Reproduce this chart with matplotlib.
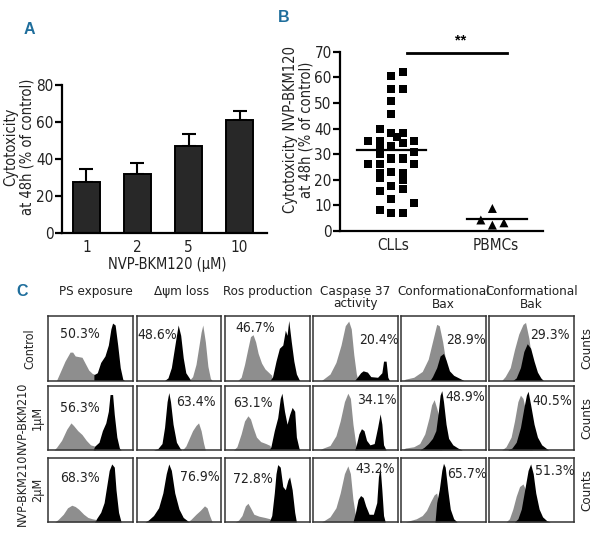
import os
import matplotlib
matplotlib.use("Agg")
import matplotlib.pyplot as plt
from matplotlib import font_manager
from matplotlib.font_manager import FontProperties

# ---------------- data ----------------
a_doses = ['1', '2', '5', '10']
a_means = [27.5, 32, 47, 61]
a_err = [7, 6, 6.5, 5]

b_groups = ['CLLs', 'PBMCs']
b_cll_values = [61.9, 60.6, 55.4, 55.4, 50.8, 45.6, 39.8, 38.1, 38.1, 36.8, 35.1, 35.1,
                34.2, 35.1, 33.2, 32.2, 30.0, 31.0, 28.3, 28.3, 26.1, 26.1, 26.1, 22.5,
                20.9, 22.9, 22.5, 19.9, 17.7, 16.4, 15.6, 12.5, 10.8, 8.2, 7.2, 7.2]
b_cll_cols = [1, 0, 0, 1, 0, 0, -1, 0, 1, 0.5, -2, -1,
              1, 2, 0, -1, -1, 2, 0, 1, -2, -1, 2, -1,
              -1, 0, 1, 1, 0, 1, -1, 0, 2, -1, 0, 1]
b_pbmc_values = [4.3, 8.8, 2.3, 3.2]
b_pbmc_cols = [-1, 0, 0, 1]
b_cll_median = 31.5
b_pbmc_median = 4.8
b_sig = '**'

c_columns = ['PS exposure', '\u0394\u03c8m loss', 'Ros production', 'Caspase 37\nactivity',
             'Conformational\nBax', 'Conformational\nBak']
c_rows = ['Control', 'NVP-BKM210\n1\u03bcM', 'NVP-BKM210\n2\u03bcM']
c_percent = [['50.3%', '48.6%', '46.7%', '20.4%', '28.9%', '29.3%'],
             ['56.3%', '63.4%', '63.1%', '34.1%', '48.9%', '40.5%'],
             ['68.3%', '76.9%', '72.8%', '43.2%', '65.7%', '51.3%']]

# histogram outlines (fluorescence fraction, relative count) per row, per column
c_gray_control = [
    [(0.1, 0), (0.14, 0.12), (0.2, 0.3), (0.26, 0.44), (0.29, 0.44), (0.32, 0.38), (0.4, 0.36), (0.44, 0.26), (0.48, 0.16), (0.52, 0.11), (0.56, 0.09), (0.56, 0)],
    [(0.62, 0), (0.66, 0.06), (0.7, 0.25), (0.73, 0.5), (0.76, 0.75), (0.78, 0.86), (0.81, 0.6), (0.84, 0.22), (0.87, 0.03), (0.89, 0)],
    [(0.15, 0), (0.19, 0.05), (0.23, 0.25), (0.27, 0.5), (0.3, 0.68), (0.33, 0.71), (0.36, 0.6), (0.39, 0.42), (0.43, 0.27), (0.47, 0.18), (0.51, 0.13), (0.55, 0.08), (0.55, 0)],
    [(0.1, 0), (0.14, 0.04), (0.2, 0.1), (0.27, 0.28), (0.33, 0.55), (0.38, 0.85), (0.42, 0.92), (0.45, 0.8), (0.48, 0.4), (0.51, 0.1), (0.53, 0)],
    [(0.03, 0), (0.05, 0.02), (0.15, 0.05), (0.25, 0.14), (0.32, 0.33), (0.37, 0.6), (0.42, 0.87), (0.45, 0.85), (0.49, 0.6), (0.52, 0.35), (0.55, 0.1), (0.58, 0)],
    [(0.15, 0), (0.19, 0.06), (0.25, 0.2), (0.3, 0.48), (0.35, 0.72), (0.4, 0.87), (0.43, 0.9), (0.47, 0.65), (0.5, 0.35), (0.53, 0.1), (0.55, 0)],
]
c_black_control = [
    [(0.54, 0), (0.54, 0.09), (0.58, 0.12), (0.62, 0.28), (0.67, 0.38), (0.71, 0.55), (0.74, 0.8), (0.76, 0.89), (0.79, 0.86), (0.82, 0.55), (0.85, 0.2), (0.88, 0.02), (0.9, 0)],
    [(0.33, 0), (0.37, 0.04), (0.41, 0.2), (0.44, 0.45), (0.47, 0.7), (0.49, 0.86), (0.52, 0.7), (0.55, 0.35), (0.58, 0.12), (0.62, 0.04), (0.64, 0)],
    [(0.53, 0), (0.56, 0.06), (0.6, 0.3), (0.64, 0.5), (0.68, 0.55), (0.71, 0.78), (0.73, 0.7), (0.75, 0.93), (0.78, 0.6), (0.81, 0.3), (0.84, 0.1), (0.87, 0.02), (0.88, 0)],
    [(0.49, 0), (0.52, 0.05), (0.56, 0.12), (0.59, 0.15), (0.64, 0.13), (0.68, 0.06), (0.76, 0.05), (0.81, 0.12), (0.83, 0.3), (0.86, 0.3), (0.88, 0.05), (0.9, 0)],
    [(0.34, 0), (0.37, 0.06), (0.42, 0.2), (0.46, 0.38), (0.5, 0.42), (0.53, 0.32), (0.57, 0.15), (0.62, 0.08), (0.68, 0.04), (0.74, 0)],
    [(0.28, 0), (0.32, 0.04), (0.37, 0.2), (0.41, 0.45), (0.45, 0.57), (0.49, 0.5), (0.53, 0.3), (0.57, 0.13), (0.61, 0.04), (0.64, 0)],
]
c_gray_1um = [
    [(0.07, 0), (0.1, 0.04), (0.16, 0.15), (0.22, 0.32), (0.27, 0.42), (0.3, 0.38), (0.35, 0.3), (0.4, 0.24), (0.45, 0.15), (0.5, 0.08), (0.55, 0.06), (0.56, 0)],
    [(0.54, 0), (0.58, 0.06), (0.62, 0.18), (0.66, 0.3), (0.7, 0.38), (0.73, 0.42), (0.76, 0.3), (0.79, 0.1), (0.81, 0)],
    [(0.1, 0), (0.14, 0.05), (0.19, 0.25), (0.23, 0.45), (0.27, 0.53), (0.3, 0.48), (0.33, 0.35), (0.37, 0.2), (0.42, 0.13), (0.48, 0.1), (0.53, 0.07), (0.54, 0)],
    [(0.08, 0), (0.12, 0.03), (0.2, 0.07), (0.27, 0.22), (0.32, 0.45), (0.37, 0.75), (0.41, 0.88), (0.44, 0.8), (0.47, 0.4), (0.5, 0.12), (0.52, 0)],
    [(0.02, 0), (0.05, 0.03), (0.15, 0.05), (0.22, 0.1), (0.28, 0.25), (0.33, 0.5), (0.36, 0.7), (0.39, 0.78), (0.42, 0.65), (0.45, 0.5), (0.47, 0.2), (0.48, 0)],
    [(0.15, 0), (0.2, 0.05), (0.26, 0.2), (0.3, 0.45), (0.34, 0.75), (0.37, 0.85), (0.4, 0.8), (0.44, 0.55), (0.48, 0.25), (0.51, 0)],
]
c_black_1um = [
    [(0.53, 0), (0.55, 0.06), (0.6, 0.12), (0.64, 0.3), (0.68, 0.42), (0.71, 0.6), (0.73, 0.86), (0.76, 0.86), (0.78, 0.55), (0.81, 0.2), (0.84, 0.03), (0.86, 0)],
    [(0.2, 0), (0.25, 0.02), (0.3, 0.1), (0.33, 0.35), (0.36, 0.75), (0.38, 0.89), (0.4, 0.75), (0.43, 0.4), (0.47, 0.12), (0.51, 0.03), (0.53, 0)],
    [(0.52, 0), (0.54, 0.05), (0.58, 0.3), (0.62, 0.5), (0.65, 0.8), (0.67, 0.88), (0.7, 0.6), (0.73, 0.4), (0.76, 0.55), (0.79, 0.66), (0.82, 0.6), (0.84, 0.2), (0.87, 0.03), (0.88, 0)],
    [(0.49, 0), (0.51, 0.08), (0.54, 0.25), (0.57, 0.33), (0.6, 0.3), (0.63, 0.15), (0.67, 0.08), (0.72, 0.1), (0.76, 0.35), (0.79, 0.56), (0.81, 0.4), (0.83, 0.08), (0.86, 0)],
    [(0.22, 0), (0.27, 0.04), (0.32, 0.1), (0.37, 0.18), (0.41, 0.3), (0.44, 0.6), (0.46, 0.85), (0.48, 0.92), (0.5, 0.75), (0.53, 0.4), (0.56, 0.18), (0.61, 0.08), (0.67, 0.03), (0.72, 0)],
    [(0.22, 0), (0.27, 0.03), (0.32, 0.12), (0.37, 0.35), (0.41, 0.65), (0.44, 0.85), (0.46, 0.91), (0.49, 0.7), (0.53, 0.4), (0.57, 0.2), (0.62, 0.08), (0.68, 0.02), (0.7, 0)],
]
c_gray_2um = [
    [(0.08, 0), (0.12, 0.04), (0.18, 0.12), (0.23, 0.22), (0.28, 0.26), (0.32, 0.24), (0.36, 0.2), (0.42, 0.12), (0.47, 0.07), (0.52, 0.05), (0.56, 0.04), (0.56, 0)],
    [(0.6, 0), (0.64, 0.04), (0.7, 0.12), (0.75, 0.18), (0.8, 0.25), (0.83, 0.22), (0.86, 0.1), (0.89, 0)],
    [(0.12, 0), (0.16, 0.03), (0.2, 0.1), (0.24, 0.25), (0.27, 0.29), (0.3, 0.22), (0.34, 0.12), (0.4, 0.09), (0.47, 0.07), (0.53, 0.05), (0.54, 0)],
    [(0.1, 0), (0.14, 0.03), (0.2, 0.08), (0.27, 0.22), (0.32, 0.45), (0.37, 0.75), (0.41, 0.87), (0.44, 0.75), (0.47, 0.35), (0.5, 0.1), (0.52, 0)],
    [(0.05, 0), (0.1, 0.02), (0.18, 0.05), (0.25, 0.1), (0.3, 0.18), (0.35, 0.32), (0.39, 0.42), (0.42, 0.45), (0.44, 0.3), (0.46, 0)],
    [(0.2, 0), (0.24, 0.05), (0.28, 0.2), (0.32, 0.4), (0.36, 0.55), (0.4, 0.59), (0.43, 0.5), (0.46, 0.2), (0.48, 0)],
]
c_black_2um = [
    [(0.55, 0), (0.57, 0.05), (0.62, 0.15), (0.66, 0.3), (0.69, 0.55), (0.72, 0.8), (0.75, 0.9), (0.78, 0.85), (0.8, 0.5), (0.83, 0.15), (0.86, 0)],
    [(0.1, 0), (0.14, 0.03), (0.2, 0.1), (0.26, 0.22), (0.31, 0.45), (0.35, 0.75), (0.38, 0.9), (0.41, 0.8), (0.45, 0.45), (0.5, 0.2), (0.55, 0.07), (0.6, 0.02), (0.62, 0)],
    [(0.52, 0), (0.55, 0.1), (0.58, 0.45), (0.6, 0.75), (0.62, 0.89), (0.65, 0.85), (0.68, 0.55), (0.71, 0.5), (0.74, 0.65), (0.76, 0.7), (0.79, 0.5), (0.82, 0.15), (0.84, 0)],
    [(0.47, 0), (0.5, 0.15), (0.53, 0.35), (0.56, 0.41), (0.59, 0.38), (0.62, 0.25), (0.66, 0.12), (0.71, 0.12), (0.75, 0.3), (0.77, 0.7), (0.79, 0.85), (0.81, 0.5), (0.83, 0.1), (0.85, 0)],
    [(0.4, 0), (0.42, 0.3), (0.45, 0.5), (0.48, 0.8), (0.5, 0.91), (0.52, 0.85), (0.55, 0.5), (0.58, 0.2), (0.62, 0.05), (0.66, 0)],
    [(0.3, 0), (0.34, 0.05), (0.38, 0.2), (0.42, 0.5), (0.46, 0.8), (0.49, 0.9), (0.52, 0.75), (0.55, 0.45), (0.59, 0.2), (0.63, 0.08), (0.68, 0.02), (0.72, 0)],
]
c_gray = [c_gray_control, c_gray_1um, c_gray_2um]
c_black = [c_black_control, c_black_1um, c_black_2um]

# ---------------- fonts: prefer a narrow / condensed face ----------------
NARROW_FILE = None
prefs = ['liberationsansnarrow-regular', 'dejavusanscondensed.', 'robotocondensed-regular',
         'opensans-condensed', 'notosans-condensed', 'opensanscondensed']
files = [f.fname for f in font_manager.fontManager.ttflist]
for key in prefs:
    hits = [fn for fn in files if key in os.path.basename(fn).lower().replace(' ', '')]
    if hits:
        NARROW_FILE = hits[0]
        break
SCALE = 1.0 if NARROW_FILE else 0.9


def fp(size, bold=False):
    if NARROW_FILE and not bold:
        return FontProperties(fname=NARROW_FILE, size=size)
    return FontProperties(family=['Liberation Sans', 'DejaVu Sans'], size=size * SCALE,
                          weight='bold' if bold else 'normal')


BLUE = '#1f6e9c'
INK = '#222222'
W, H = 596, 541

fig = plt.figure(figsize=(W / 100, H / 100), dpi=100)


def rect(l, t, r, b):
    return [l / W, 1 - b / H, (r - l) / W, (b - t) / H]


def px(x, y):
    return x / W, 1 - y / H


def style_prism(ax):
    for s in ['top', 'right']:
        ax.spines[s].set_visible(False)
    for s in ['left', 'bottom']:
        ax.spines[s].set_linewidth(1.6)
    ax.tick_params(axis='y', length=5, width=1.6, pad=1)
    ax.tick_params(axis='x', length=0, pad=5)
    for lbl in ax.get_xticklabels() + ax.get_yticklabels():
        lbl.set_fontproperties(fp(11))
        lbl.set_color(INK)


# ---- Panel A ----
axA = fig.add_axes(rect(61.7, 85, 267, 232.7))
xa = list(range(len(a_doses)))
axA.bar(xa, a_means, width=0.53, color='#282828', edgecolor='black', linewidth=1.4, zorder=2)
axA.errorbar(xa, a_means, yerr=[[0] * len(a_err), a_err], fmt='none', ecolor='black',
             elinewidth=1.5, capsize=5, capthick=1.5, zorder=1)
axA.set_xlim(-0.486, 3.539)
axA.set_ylim(0, 80)
axA.set_yticks([0, 20, 40, 60, 80])
axA.set_xticks(xa)
axA.set_xticklabels(a_doses)
style_prism(axA)
fig.text(*px(167, 265), 'NVP-BKM120 (\u03bcM)', fontproperties=fp(10.5), ha='center',
         va='center', color=INK)
fig.text(*px(19, 147), 'Cytotoxicity\nat 48h (% of control)', fontproperties=fp(10.5),
         ha='center', va='center', rotation=90, linespacing=1.05, color=INK)
fig.text(*px(29, 30), 'A', color=BLUE, fontproperties=fp(11.5, bold=True), ha='center',
         va='center')

# ---- Panel B ----
axB = fig.add_axes(rect(340, 51.7, 543, 231))
step = 0.114
axB.scatter([0 + c * step for c in b_cll_cols], b_cll_values, marker='s', s=34, color='black',
            edgecolors='none', zorder=3, clip_on=False)
axB.scatter([1 + c * step for c in b_pbmc_cols], b_pbmc_values, marker='^', s=42, color='black',
            edgecolors='none', zorder=3, clip_on=False)
axB.plot([-0.34, 0.34], [b_cll_median] * 2, color='black', lw=1.6, zorder=4)
axB.plot([0.75, 1.34], [b_pbmc_median] * 2, color='black', lw=1.6, zorder=4)
axB.plot([0.155, 1.145], [69.5, 69.5], color='black', lw=2.0, clip_on=False)
axB.text(0.69, 74.5, b_sig, ha='center', va='center', fontproperties=fp(10.5, bold=True))
axB.set_xlim(-0.505, 1.5)
axB.set_ylim(0, 70)
axB.set_yticks(range(0, 71, 10))
axB.set_xticks([0.02, 1.03])
axB.set_xticklabels(b_groups)
style_prism(axB)
fig.text(*px(298, 130), 'Cytotoxicity NVP-BKM120\nat 48h (% of control)',
         fontproperties=fp(10.5), ha='center', va='center', rotation=90, linespacing=1.05,
         color=INK)
fig.text(*px(284, 18), 'B', color=BLUE, fontproperties=fp(11.5, bold=True), ha='center',
         va='center')

# ---- Panel C ----
col_lefts = [48, 136.5, 225, 313, 401, 489]
col_w = 85
row_tops = [316, 385.5, 457.5]
row_h = 64.5
header_shift = [5, 3, 0, 0, 0, 0]
label_pos = [
    [(0.38, 0.72), (0.24, 0.70), (0.35, 0.82), (0.77, 0.63), (0.76, 0.63), (0.72, 0.71)],
    [(0.38, 0.65), (0.70, 0.75), (0.33, 0.73), (0.75, 0.78), (0.76, 0.82), (0.74, 0.76)],
    [(0.37, 0.68), (0.74, 0.69), (0.33, 0.66), (0.73, 0.82), (0.78, 0.74), (0.78, 0.79)],
]
for r in range(3):
    for c in range(6):
        l = col_lefts[c]
        t = row_tops[r]
        ax = fig.add_axes(rect(l, t, l + col_w, t + row_h))
        g = c_gray[r][c]
        b = c_black[r][c]
        ax.fill_between([p[0] for p in g], [p[1] for p in g], 0, color='#8e8e8e', lw=0, zorder=1)
        ax.fill_between([p[0] for p in b], [p[1] for p in b], 0, color='black', lw=0, zorder=2)
        ax.set_xlim(0, 1)
        ax.set_ylim(0, 1)
        ax.set_xticks([])
        ax.set_yticks([])
        for s in ax.spines.values():
            s.set_color('#333333')
            s.set_linewidth(1.1)
        lx, ly = label_pos[r][c]
        ax.text(lx, ly, c_percent[r][c], transform=ax.transAxes, ha='center', va='center',
                fontproperties=fp(10), color=INK, zorder=5)

for c, name in enumerate(c_columns):
    fig.text(*px(col_lefts[c] + col_w / 2 + header_shift[c], 285), name, ha='center', va='top',
             fontproperties=fp(9.6), linespacing=0.95, color=INK)

for r, name in enumerate(c_rows):
    fig.text(*px(30, row_tops[r] + row_h / 2), name, ha='center', va='center', rotation=90,
             fontproperties=fp(9.0), linespacing=1.2, color=INK)
    fig.text(*px(587, row_tops[r] + row_h / 2), 'Counts', ha='center', va='center', rotation=90,
             fontproperties=fp(9.6), color=INK)

fig.text(*px(22, 291), 'C', color=BLUE, fontproperties=fp(11.5, bold=True), ha='center',
         va='center')

fig.savefig('out.png', dpi=100)
